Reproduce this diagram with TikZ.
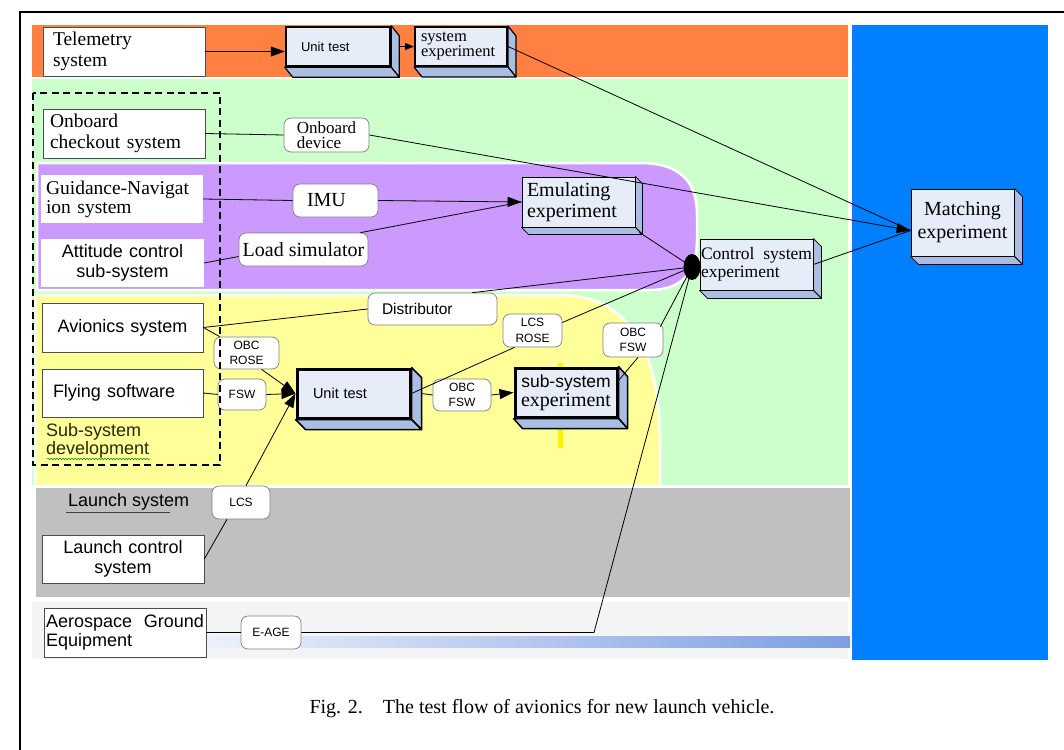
\documentclass[tikz,border=0pt]{standalone}
\usepackage{fontspec}
\setmainfont{Liberation Serif}
\setsansfont{Liberation Sans}
\usetikzlibrary{arrows.meta,calc,decorations.pathmorphing,shapes.geometric}
\definecolor{cOrange}{RGB}{255,128,64}
\definecolor{cGreen}{RGB}{204,255,204}
\definecolor{cPurple}{RGB}{204,153,255}
\definecolor{cYellow}{RGB}{255,255,153}
\definecolor{cGray}{RGB}{192,192,192}
\definecolor{cBlue}{RGB}{0,128,255}
\definecolor{cFront}{RGB}{230,236,248}
\definecolor{cSide}{RGB}{170,190,226}
\definecolor{cPillBorder}{RGB}{128,128,128}
\definecolor{cAge}{RGB}{243,244,246}
\definecolor{cBarL}{RGB}{236,241,251}
\definecolor{cBarR}{RGB}{125,158,225}
\definecolor{cOlive}{RGB}{40,40,5}
\newcommand\drawcubefaces[4]{%
  \filldraw[cubeside, line width=#4] (#1.north east) -- ++(#2,#3) -- ($(#1.south east)+(#2,#3)$) -- (#1.south east) -- cycle;
  \filldraw[cubeside, line width=#4] (#1.south west) -- ++(#2,#3) -- ($(#1.south east)+(#2,#3)$) -- (#1.south east) -- cycle;
}
\begin{document}
\begin{tikzpicture}[x=1pt,y=-1pt,
  wbox/.style={draw=black!70, fill=white, line width=0.7pt, inner ysep=0pt},
  nbox/.style={fill=white, inner ysep=0pt},
  pill/.style={draw=cPillBorder, fill=white, rounded corners=7pt, line width=0.7pt, inner sep=0pt, align=center},
  cubefront/.style={draw=black, fill=cFront, inner ysep=0pt},
  cubeside/.style={draw=black, fill=cSide, line join=round},
  conn/.style={draw=black, line width=0.8pt},
  bigtip/.style={-{Triangle[length=14pt,width=10pt]}},
  smalltip/.style={-{Triangle[length=9pt,width=7pt]}},
  serifA/.style={font=\fontsize{19.5}{21}\selectfont},
  sansA/.style={font=\sffamily\fontsize{18}{20}\selectfont},
  pillfont/.style={font=\sffamily\fontsize{12}{15.5}\selectfont},
]
\useasboundingbox (0,0) rectangle (1064,749);
\fill[white] (0,0) rectangle (1064,749);
% frame
\draw[line width=1.5pt] (20,760) -- (20,12) -- (1080,12);
% regions
\fill[cOrange] (32,25) rectangle (848,77);
\fill[cGreen] (32,79) rectangle (848,485);
\filldraw[fill=cPurple, draw=white, line width=2.5pt] (37,163) -- (640,163) .. controls (688,163) and (697,190) .. (697,215) -- (697,240) .. controls (697,272) and (682,290) .. (650,290) -- (37,290) -- cycle;
\filldraw[fill=cYellow, draw=white, line width=2.5pt] (35,295) -- (560,295) .. controls (640,295) and (660,370) .. (660,440) -- (660,486) -- (35,486) -- cycle;
\fill[cGray] (36,488) rectangle (850,597);
\fill[cAge] (32,602) rectangle (848,659);
\shade[left color=cBarL, right color=cBarR] (208,636) rectangle (850,647);
\fill[cBlue] (852,25) rectangle (1048,660);
\fill[yellow] (558,363) rectangle (563,448);

% white boxes
\node[wbox, serifA, text width=142pt, inner xsep=10pt, align=left, minimum height=49pt] (tele) at (124,51.5) {Telemetry\\system};
\node[wbox, serifA, text width=148pt, inner xsep=7pt, align=left, minimum height=49pt] (obc) at (124,133.5) {Onboard\\checkout system};
\node[nbox, font=\fontsize{19.5}{19}\selectfont, text width=152pt, inner xsep=5pt, align=left, minimum height=48pt] (gnc) at (122,199) {Guidance-Navigat\\ion system};
\node[nbox, sansA, text width=163pt, inner xsep=0pt, align=center, minimum height=48pt] (att) at (122.5,263) {Attitude control\\sub-system};
\node[wbox, sansA, text width=161pt, inner xsep=0pt, align=center, minimum height=49pt] (avi) at (122.5,327.5) {Avionics system};
\node[wbox, sansA, text width=139pt, inner xsep=11pt, align=left, minimum height=48pt] (fly) at (122.5,393) {Flying software};
\node[wbox, sansA, text width=162pt, inner xsep=0pt, align=center, minimum height=48pt] (lcsbox) at (123,559) {Launch control\\system};
\node[wbox, font=\sffamily\fontsize{18}{19}\selectfont, text width=158pt, inner xsep=2pt, align=left, minimum height=49pt] (age) at (125,632.5) {Aerospace\hfill Ground\\Equipment};

% pills
\node[pill, font=\fontsize{17}{15}\selectfont, align=left, minimum width=85pt, minimum height=34pt] (dev) at (326.5,135) {Onboard\\device};
\node[pill, font=\fontsize{20}{21}\selectfont, align=left, text width=57pt, inner xsep=14pt, minimum height=33pt] (imu) at (335.5,200.5) {IMU};
\node[pill, font=\fontsize{20}{21}\selectfont, minimum width=129pt, minimum height=33pt] (load) at (303.5,249.5) {Load simulator};
\node[pill, font=\sffamily\fontsize{15.5}{17}\selectfont, align=left, text width=101pt, inner xsep=14pt, minimum height=32pt] (dist) at (432.5,309) {Distributor};
\node[pill, pillfont, minimum width=65pt, minimum height=32pt] (obcrose) at (246.5,353) {OBC\\ROSE};
\node[pill, pillfont, minimum width=48pt, minimum height=31pt] (fsw) at (242,394.5) {FSW};
\node[pill, pillfont, minimum width=59pt, minimum height=33pt] (lcsrose) at (532.5,330.5) {LCS\\ROSE};
\node[pill, pillfont, minimum width=60pt, minimum height=34pt] (obcfsw1) at (633,340) {OBC\\FSW};
\node[pill, pillfont, minimum width=58pt, minimum height=32pt] (obcfsw2) at (462,395) {OBC\\FSW};
\node[pill, pillfont, minimum width=58pt, minimum height=33pt] (lcs) at (241,502.5) {LCS};
\node[pill, pillfont, minimum width=60pt, minimum height=33pt] (eage) at (271,632.5) {E-AGE};

% cubes
\node[cubefront, line width=2.5pt, font=\sffamily\fontsize{13}{15}\selectfont, text width=74pt, inner xsep=15pt, align=left, minimum height=39pt] (ut1) at (338,46.5) {Unit test};
\drawcubefaces{ut1}{8}{10}{1.2pt}
\node[cubefront, line width=2pt, font=\fontsize{16.5}{15}\selectfont, text width=80pt, inner xsep=6pt, align=left, minimum height=39pt] (se1) at (461,46.5) {system\\experiment};
\drawcubefaces{se1}{8}{10}{1.2pt}
\node[cubefront, line width=0.9pt, font=\fontsize{20}{21}\selectfont, text width=103pt, inner xsep=5pt, align=left, minimum height=50pt] (emu) at (578.5,202) {Emulating\\experiment};
\drawcubefaces{emu}{7}{7}{0.8pt}
\node[cubefront, line width=0.9pt, font=\fontsize{17.5}{18}\selectfont, text width=111pt, inner xsep=1pt, align=left, minimum height=51pt] (ctrl) at (756.5,264.5) {Control\hfill system\\experiment};
\drawcubefaces{ctrl}{8}{8}{0.8pt}
\node[cubefront, line width=0.9pt, font=\fontsize{20}{23}\selectfont, text width=103pt, inner xsep=0pt, align=center, minimum height=67pt] (match) at (962.5,222.5) {Matching\\experiment};
\drawcubefaces{match}{8}{8}{0.8pt}
\node[cubefront, line width=3pt, font=\sffamily\fontsize{14.5}{16}\selectfont, text width=81pt, inner xsep=16pt, align=left, minimum height=49pt] (ut2) at (353.5,393.5) {Unit test};
\drawcubefaces{ut2}{10}{10}{1.5pt}
\node[cubefront, line width=3pt, font=\fontsize{20}{19}\selectfont, text width=102pt, inner xsep=0pt, align=center, minimum height=49pt] (sse) at (566,392.5) {{\sffamily\fontsize{17.5}{19}\selectfont sub-system}\\experiment};
\drawcubefaces{sse}{9}{10}{1.5pt}

% dashed group
\draw[line width=1.4pt, dash pattern=on 7pt off 4.5pt] (33,93) rectangle (220,465);

% texts
\node[font=\sffamily\fontsize{18}{18.5}\selectfont, align=left, anchor=north west, inner sep=0pt, text=cOlive] (subdev) at (46,423) {Sub-system\\development};
\draw[green!55!black, line width=0.5pt, decorate, decoration={snake, amplitude=0.8pt, segment length=3pt}] (47,459) -- (150,459);
\node[font=\sffamily\fontsize{18}{20}\selectfont, anchor=west, inner sep=0pt] (launch) at (68,502) {Launch system};
\draw[black!75, line width=0.8pt] (66,512) -- (170,512);

% blob
\node[ellipse, fill=black, minimum width=17pt, minimum height=26pt, inner sep=0pt] (blob) at (692,267) {};

% connectors
\draw[conn,bigtip] (tele.east) -- (tele.east -| ut1.west);
\draw[conn,smalltip] ([xshift=8pt]ut1.east) -- (se1.west);
\coordinate (mtip) at ($(match.west)+(0,8)$);
\draw[conn] (se1.east) -- (mtip);
\draw[conn] (ctrl.east) -- (mtip);
\draw[conn] (obc.east) -- (dev.west);
\draw[conn,bigtip] (dev.east) -- (mtip);
\draw[conn] (gnc.east) -- (imu.west);
\draw[conn] (att.east) -- ($(load.west)+(0,7)$);
\draw[conn] ($(load.north east)+(-8,0)$) -- (emu.west);
\draw[conn,bigtip] (imu.east) -- (emu.west);
\draw[conn] ($(emu.south east)+(4,5)$) -- (blob.center);
\draw[conn] (avi.east) -- (dist.west);
\draw[conn] ($(dist.north east)+(-25,0)$) -- (blob.center);
\draw[conn] (avi.east) -- ($(obcrose.north west)+(6,0)$);
\draw[conn,bigtip] ($(obcrose.south)+(15,0)$) -- (ut2.west);
\draw[conn] (fly.east) -- (fsw.west);
\draw[conn,bigtip] (fsw.east) -- (ut2.west);
\draw[conn] (lcsbox.east) -- ($(lcs.south)+(-14,0)$);
\draw[conn,bigtip] ($(lcs.north)+(5,0)$) -- (ut2.west);
\draw[conn] ([xshift=10pt]ut2.east) -- (obcfsw2.west);
\draw[conn,bigtip] (obcfsw2.east) -- (sse.west);
\draw[conn] (ut2.east) -- ($(lcsrose.south)+(-18,0)$);
\draw[conn] ($(lcsrose.east)+(0,-8)$) -- (blob.center);
\draw[conn] ($(sse.east)+(0,-12)$) -- ($(obcfsw1.south)+(5,0)$);
\draw[conn] ($(obcfsw1.north east)+(-3,4)$) -- (blob.center);
\draw[conn] (age.east) -- (eage.west);
\coordinate (ebend) at (594,632.5);
\draw[conn] (eage.east) -- (ebend) -- (blob.center);

% caption
\node[font=\fontsize{20}{22}\selectfont, inner sep=0pt] (cap) at (542,709) {Fig. 2.\quad The test flow of avionics for new launch vehicle.};
\end{tikzpicture}
\end{document}
